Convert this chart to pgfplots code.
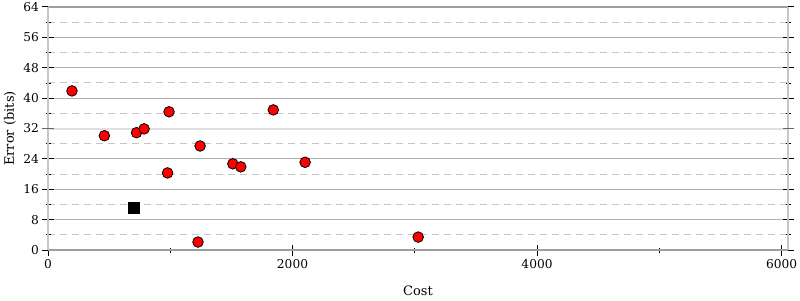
\documentclass[border=0pt]{standalone}
\usepackage{pgfplots}
\pgfplotsset{compat=1.18}
\usepackage{fontspec}
\setmainfont{DejaVu Serif}
\begin{document}
\begin{tikzpicture}
\useasboundingbox (0,0) rectangle (800pt,300pt);
\begin{axis}[
  at={(48pt,50pt)}, anchor=south west,
  scale only axis, width=740pt, height=243pt,
  xmin=0, xmax=6053, ymin=0, ymax=64,
  xtick={0,2000,4000,6000}, minor xtick={1000,3000,5000},
  ytick={0,8,16,24,40,48,56,64}, minor ytick={4,12,20,28,36,44,52,60},
  extra y ticks={32},
  extra y tick style={major grid style={gray!25, line width=2pt}, major tick style={gray!80!black, line width=1pt}},
  scaled x ticks=false,
  xticklabel style={/pgf/number format/1000 sep={}},
  /pgf/number format/assume math mode=true,
  tick label style={font=\fontsize{12.2}{14}\selectfont},
  label style={font=\fontsize{13}{15}\selectfont},
  xtick pos=lower, ytick pos=both,
  tick align=center,
  major tick length=11pt, minor tick length=5pt,
  major tick style={black, line width=1pt},
  minor tick style={black, line width=0.7pt},
  ymajorgrids, yminorgrids,
  major grid style={gray!60, line width=0.9pt},
  minor grid style={gray!45, line width=0.9pt, dash pattern=on 7pt off 5pt},
  separate axis lines,
  x axis line style={gray!75, line width=2pt},
  y axis line style={gray!45, line width=2pt},
  xlabel={Cost}, ylabel={Error (bits)},
  xlabel style={at={(axis description cs:0.5,-0.169)}, anchor=center},
  ylabel style={at={(axis description cs:-0.0514,0.5)}, anchor=center, rotate=0},
  clip=false,
]
\addplot[only marks, mark=*, mark size=5.3pt, mark options={fill=red, draw=black, line width=0.8pt}]
coordinates {
(196,41.9) (461,30.1) (724,30.9) (786,31.9) (990,36.4) (978,20.3)
(1244,27.4) (1512,22.7) (1577,21.9) (1843,36.9) (2103,23.1)
(1227,2.1) (3028,3.4)
};
\addplot[only marks, mark=square*, mark size=5.5pt, mark options={fill=black, draw=black}]
coordinates {(704,11.1)};
\end{axis}
\end{tikzpicture}
\end{document}
